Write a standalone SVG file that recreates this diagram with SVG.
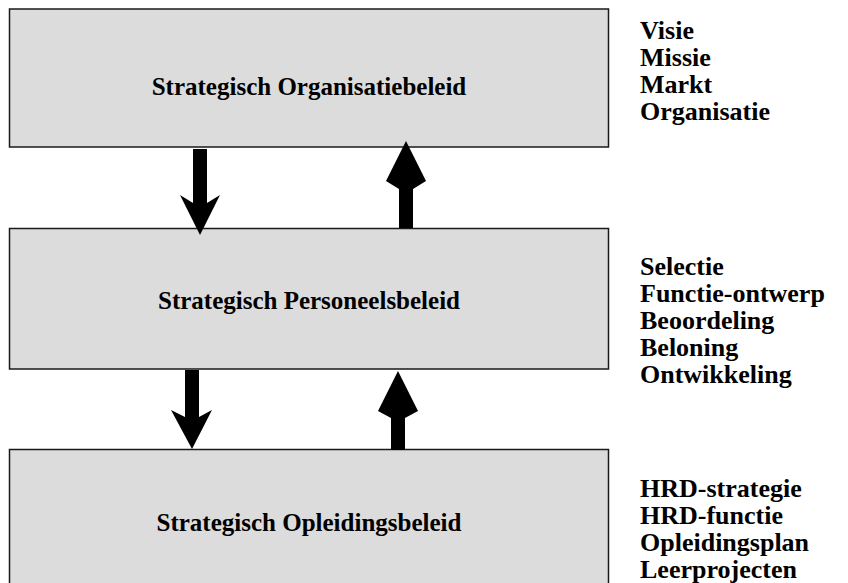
<svg xmlns="http://www.w3.org/2000/svg" width="848" height="583" viewBox="0 0 848 583">
<style>
.box{fill:#dcdcdc;stroke:#1a1a1a;stroke-width:1.5}
.t{font-family:"Liberation Serif","Times New Roman",serif;font-weight:bold;font-size:25px;fill:#000}
.r{font-size:26px}
.c{text-anchor:middle}
.arr{fill:#000}
</style>
<rect width="848" height="583" fill="#fff"/>
<g id="node-organisatie">
<rect class="box" x="9.5" y="9" width="599" height="138"/>
<text class="t c" x="309" y="95">Strategisch Organisatiebeleid</text>
</g>
<g id="node-personeel">
<rect class="box" x="9.5" y="228.5" width="599" height="140.5"/>
<text class="t c" x="309" y="309">Strategisch Personeelsbeleid</text>
</g>
<g id="node-opleiding">
<rect class="box" x="9.5" y="449.5" width="599" height="140"/>
<text class="t c" x="309" y="531">Strategisch Opleidingsbeleid</text>
</g>
<g id="list-organisatie">
<text class="t r" x="640" y="39">Visie</text>
<text class="t r" x="640" y="66">Missie</text>
<text class="t r" x="640" y="93">Markt</text>
<text class="t r" x="640" y="120">Organisatie</text>
</g>
<g id="list-personeel">
<text class="t r" x="640" y="275">Selectie</text>
<text class="t r" x="640" y="302">Functie-ontwerp</text>
<text class="t r" x="640" y="329">Beoordeling</text>
<text class="t r" x="640" y="356">Beloning</text>
<text class="t r" x="640" y="383">Ontwikkeling</text>
</g>
<g id="list-opleiding">
<text class="t r" x="640" y="497">HRD-strategie</text>
<text class="t r" x="640" y="524">HRD-functie</text>
<text class="t r" x="640" y="551">Opleidingsplan</text>
<text class="t r" x="640" y="578">Leerprojecten</text>
</g>
<g id="connectors">
<polygon class="arr" points="193,149 207,149 207,203 220,195 200,235 180,195 193,203"/>
<polygon class="arr" points="399,228 413,228 413,189 426,181 406,141 386,181 399,189"/>
<polygon class="arr" points="185,370 199,370 199,417 212,410 192,449 171,410 185,417"/>
<polygon class="arr" points="391,450 405,450 405,418 418,411 398,371 378,411 391,418"/>
</g>
</svg>
